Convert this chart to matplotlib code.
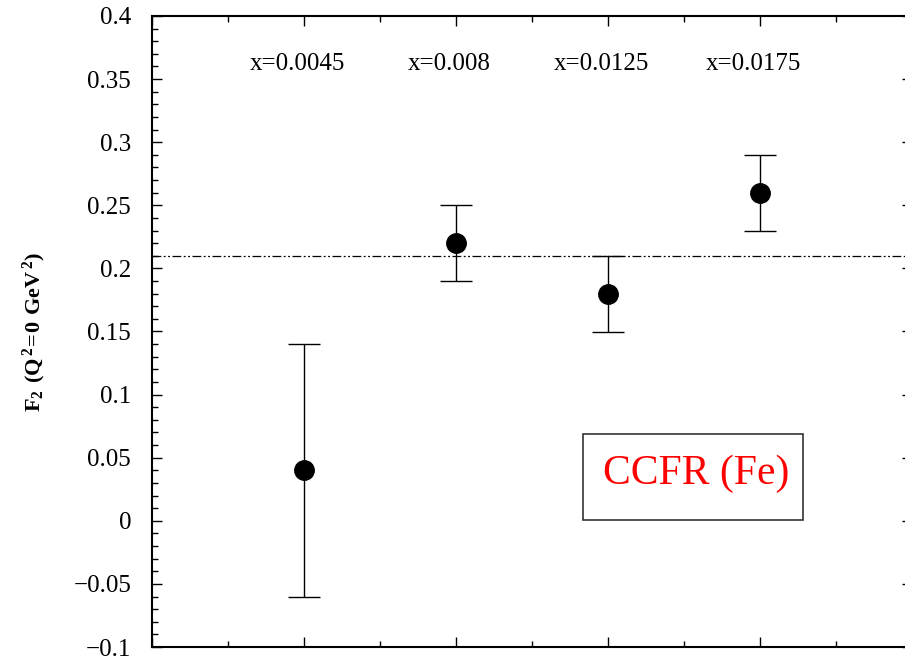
import matplotlib
matplotlib.use("Agg")
import matplotlib.pyplot as plt
from matplotlib.patches import Rectangle
from matplotlib.ticker import MultipleLocator, FuncFormatter

plt.rcParams['font.family'] = 'Liberation Serif'
plt.rcParams['mathtext.fontset'] = 'custom'
plt.rcParams['mathtext.rm'] = 'Liberation Serif'
plt.rcParams['mathtext.bf'] = 'Liberation Serif:bold'

# F2 at Q^2 = 0 extrapolated from CCFR iron data
xpos = [2, 4, 6, 8]
f2 = [0.04, 0.22, 0.18, 0.26]
f2_err = [0.10, 0.03, 0.03, 0.03]
bin_labels = ["x=0.0045", "x=0.008", "x=0.0125", "x=0.0175"]
mean_f2 = 0.21

fig = plt.figure(figsize=(9.05, 6.58), dpi=100)
ax = fig.add_axes([152 / 905, 11 / 658, 760 / 905, 631 / 658])

ax.errorbar(xpos, f2, yerr=f2_err, fmt='o', color='black', ms=14,
            ecolor='black', elinewidth=1, capsize=11.5, capthick=1)
ax.axhline(mean_f2, color='black', lw=0.9, dashes=(7, 2, 1.5, 2, 1.5, 2))

for xp, lab in zip(xpos, bin_labels):
    ax.text(xp - 0.09, 0.362, lab, ha='center', va='center', fontsize=18)

ax.add_patch(Rectangle((5.67, 0.001), 2.9, 0.068, fill=False,
                       edgecolor='#333333', lw=1.2))
ax.text(7.16, 0.037, "CCFR (Fe)", color='red', fontsize=30,
        ha='center', va='center')

ax.set_xlim(0, 10)
ax.set_ylim(-0.1, 0.4)
ax.xaxis.set_major_locator(MultipleLocator(2))
ax.xaxis.set_minor_locator(MultipleLocator(1))
ax.yaxis.set_major_locator(MultipleLocator(0.05))
ax.yaxis.set_minor_locator(MultipleLocator(0.01))
ax.yaxis.set_major_formatter(
    FuncFormatter(lambda v, p: ('%g' % round(v, 3)).replace('-', '\u2212')))
ax.tick_params(which='both', direction='in', top=True, right=True,
               labelbottom=False, width=1)
ax.tick_params(which='major', length=7, labelsize=18, pad=15)
ax.tick_params(which='minor', length=4)
for s in ax.spines.values():
    s.set_linewidth(1.5)

ax.set_ylabel(r'$\mathbf{F_2\ (Q^{\,2}\!=\!0\ GeV^{\,2})}$', fontsize=16,
              labelpad=18)

fig.savefig("out.png", dpi=100)
